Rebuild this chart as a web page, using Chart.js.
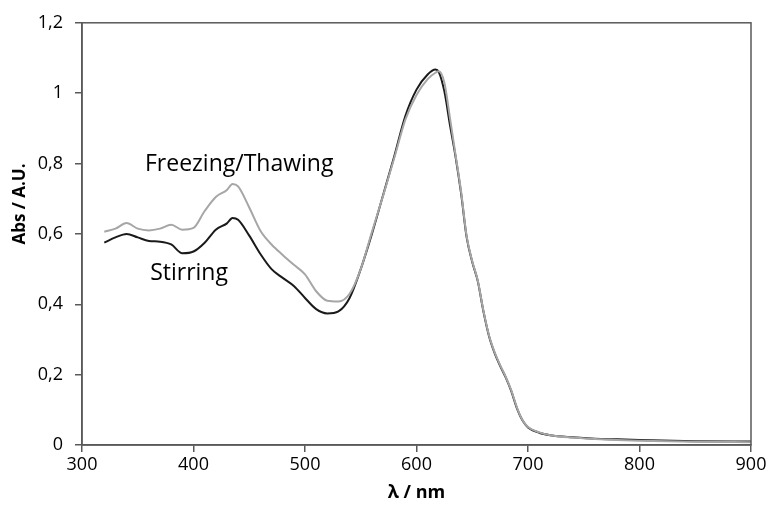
<!DOCTYPE html>
<html>
<head>
<meta charset="utf-8">
<script src="https://cdn.jsdelivr.net/npm/chart.js@4/dist/chart.umd.min.js"></script>
<style>
  html, body { margin: 0; padding: 0; background: #fff; }
  #wrap { width: 769px; height: 513px; }
</style>
</head>
<body>
<div id="wrap"><canvas id="c" width="769" height="513"></canvas></div>
<script>
"use strict";

// wavelength (nm)
var wavelengths = [320,330,340,350,360,370,380,390,400,410,420,430,435,440,450,460,470,480,490,500,
  510,520,530,540,550,560,570,580,590,600,610,617,620,625,630,635,640,645,650,655,660,665,670,675,
  680,685,690,695,700,710,720,740,760,780,800,850,900];

// absorbance, stirring (black)
var stirring = [0.575,0.590,0.600,0.590,0.580,0.578,0.570,0.545,0.550,0.575,0.612,0.630,0.645,0.640,0.595,0.543,0.500,0.475,0.452,0.418,
  0.386,0.374,0.380,0.418,0.500,0.600,0.710,0.820,0.935,1.010,1.053,1.067,1.060,1.005,0.910,0.820,0.715,0.590,0.520,0.465,
  0.380,0.310,0.262,0.225,0.192,0.153,0.105,0.070,0.050,0.035,0.028,0.022,0.018,0.016,0.014,0.011,0.010];

// absorbance, freezing/thawing (grey)
var freezing = [0.606,0.615,0.631,0.615,0.610,0.615,0.626,0.612,0.617,0.665,0.705,0.725,0.742,0.735,0.675,0.609,0.570,0.540,0.512,0.485,
  0.437,0.410,0.408,0.430,0.500,0.605,0.708,0.815,0.925,0.995,1.040,1.058,1.062,1.030,0.930,0.825,0.720,0.593,0.522,0.467,
  0.382,0.312,0.264,0.227,0.194,0.155,0.107,0.071,0.051,0.036,0.028,0.021,0.017,0.014,0.012,0.009,0.008];

var xTicks = [300,400,500,600,700,800,900];
var yTicks = [0,0.2,0.4,0.6,0.8,1,1.2];

var FONT = "'Open Sans', 'Noto Sans', sans-serif";
var AXIS = "#595959";

function pts(ys) {
  return wavelengths.map(function(x, i) { return { x: x, y: ys[i] }; });
}
function fmtComma(v) {
  return String(Math.round(v * 10) / 10).replace(".", ",");
}

// plot frame, y title and curve labels
var framePlugin = {
  id: "frame",
  afterDraw: function(chart) {
    var ctx = chart.ctx, a = chart.chartArea;
    var xs = chart.scales.x, ys = chart.scales.y;
    ctx.save();
    ctx.strokeStyle = AXIS;
    ctx.lineWidth = 1.5;
    ctx.strokeRect(a.left, a.top, a.right - a.left, a.bottom - a.top);
    ctx.fillStyle = "#000";
    ctx.textAlign = "center";
    ctx.textBaseline = "middle";
    ctx.font = "23px " + FONT;
    ctx.fillText("Freezing/Thawing", xs.getPixelForValue(441), ys.getPixelForValue(0.797));
    ctx.fillText("Stirring", xs.getPixelForValue(396), ys.getPixelForValue(0.487));
    ctx.translate(20, ys.getPixelForValue(0.685));
    ctx.rotate(-Math.PI / 2);
    ctx.font = "bold 17px " + FONT;
    ctx.fillText("Abs / A.U.", 0, 0);
    ctx.restore();
  }
};

new Chart(document.getElementById("c").getContext("2d"), {
  type: "line",
  data: {
    datasets: [
      {
        label: "Freezing/Thawing",
        data: pts(freezing),
        borderColor: "#a6a6a6",
        borderWidth: 2,
        pointRadius: 0,
        fill: false,
        cubicInterpolationMode: "monotone"
      },
      {
        label: "Stirring",
        data: pts(stirring),
        borderColor: "#1a1a1a",
        borderWidth: 2,
        pointRadius: 0,
        fill: false,
        cubicInterpolationMode: "monotone"
      }
    ]
  },
  options: {
    responsive: false,
    animation: false,
    events: [],
    layout: { padding: { top: 21, right: 18, left: 0, bottom: 0 } },
    plugins: { legend: { display: false }, tooltip: { enabled: false } },
    scales: {
      x: {
        type: "linear",
        min: 300,
        max: 900,
        afterBuildTicks: function(s) { s.ticks = xTicks.map(function(v) { return { value: v }; }); },
        afterFit: function(s) { s.height = 68; },
        ticks: { color: "#000", font: { family: FONT, size: 18 }, padding: 2, maxRotation: 0 },
        grid: { drawOnChartArea: false, drawTicks: true, tickLength: 7, color: AXIS, lineWidth: 1.5 },
        border: { display: true, color: AXIS, width: 1.5 },
        title: { display: true, text: "\u03bb / nm", color: "#000", font: { family: FONT, size: 18, weight: "bold" }, padding: { top: 0, bottom: 9 } }
      },
      y: {
        type: "linear",
        min: 0,
        max: 1.2,
        afterBuildTicks: function(s) { s.ticks = yTicks.map(function(v) { return { value: v }; }); },
        afterFit: function(s) { s.width = 82; },
        ticks: { color: "#000", font: { family: FONT, size: 18 }, padding: 12, callback: fmtComma },
        grid: { drawOnChartArea: false, drawTicks: true, tickLength: 7, color: AXIS, lineWidth: 1.5 },
        border: { display: true, color: AXIS, width: 1.5 }
      }
    }
  },
  plugins: [framePlugin]
});
</script>
</body>
</html>
